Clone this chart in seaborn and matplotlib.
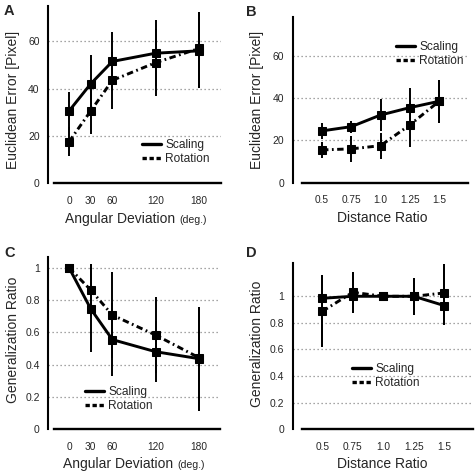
import numpy as np
import pandas as pd
import matplotlib
matplotlib.use("Agg")
import matplotlib.pyplot as plt
from matplotlib.lines import Line2D
import seaborn as sns

# ---------------- data ----------------
ang_x = [0, 30, 60, 120, 180]
ang_ticklabels = ["0", "30", "60", "120", "180"]
dist_x = [0.5, 0.75, 1.0, 1.25, 1.5]
dist_ticklabels = ["0.5", "0.75", "1.0", "1.25", "1.5"]

# Panel A: Euclidean error vs angular deviation
a_scal = [30.5, 42.0, 51.5, 55.0, 56.0]
a_scal_lo = [22.5, 29.6, 39.0, 41.0, 40.3]
a_scal_hi = [38.5, 54.4, 64.0, 69.2, 72.4]
a_rot = [17.5, 30.5, 43.5, 51.0, 57.0]
a_rot_lo = [11.4, 20.6, 31.3, 36.9, 40.3]
a_rot_hi = [23.6, 40.4, 55.7, 65.1, 72.4]

# Panel B: Euclidean error vs distance ratio
b_scal = [24.5, 26.5, 32.0, 35.5, 38.5]
b_scal_lo = [20.5, 23.5, 24.4, 26.5, 28.1]
b_scal_hi = [28.4, 29.3, 39.6, 44.6, 48.4]
b_rot = [15.5, 16.0, 17.5, 27.3, 38.5]
b_rot_lo = [11.8, 9.9, 11.3, 16.9, 28.1]
b_rot_hi = [19.2, 22.1, 23.7, 37.7, 48.4]

# Panel C: generalization ratio vs angular deviation
c_scal = [1.0, 0.746, 0.555, 0.48, 0.437]
c_scal_lo = [1.0, 0.48, 0.33, 0.294, 0.115]
c_scal_hi = [1.0, 1.02, 0.78, 0.67, 0.754]
c_rot = [1.0, 0.862, 0.707, 0.583, 0.443]
c_rot_lo = [1.0, 0.70, 0.44, 0.35, 0.115]
c_rot_hi = [1.0, 1.02, 0.971, 0.816, 0.754]

# Panel D: generalization ratio vs distance ratio
d_scal = [0.985, 1.0, 1.0, 1.0, 0.93]
d_scal_lo = [0.62, 0.877, 1.0, 0.862, 0.782]
d_scal_hi = [1.158, 1.183, 1.0, 1.138, 1.246]
d_rot = [0.887, 1.03, 1.0, 1.0, 1.025]
d_rot_lo = [0.62, 0.877, 1.0, 0.862, 0.782]
d_rot_hi = [1.158, 1.183, 1.0, 1.138, 1.246]

series_names = ["Scaling", "Rotation"]

# ---------------- style ----------------
sns.set_style("white")
plt.rcParams["font.family"] = ["Liberation Sans", "DejaVu Sans"]

W, H = 477, 472
fig = plt.figure(figsize=(W / 100, H / 100), dpi=100)

ROT_DASH = (2.2, 1.2, 0.6, 1.2)


def add_axes_px(left, top, right, bottom):
    return fig.add_axes([left / W, 1 - bottom / H, (right - left) / W, (bottom - top) / H])


def panel(ax, x, scal, slo, shi, rot, rlo, rhi, xlim, xbound, ylim, yticks,
          yticklabels, xticks, xticklabels, ylabel, xlabel, xlabel_extra,
          legend_pos, label_px):
    df = pd.DataFrame({
        "x": list(x) * 2,
        "y": list(scal) + list(rot),
        "cond": [series_names[0]] * len(x) + [series_names[1]] * len(x),
    })
    # error bars
    for vals, lo, hi in [(scal, slo, shi), (rot, rlo, rhi)]:
        yerr = [np.array(vals) - np.array(lo), np.array(hi) - np.array(vals)]
        ax.errorbar(x, vals, yerr=yerr, fmt="none", ecolor="black",
                    elinewidth=1.4, capsize=0, zorder=2)
    sns.lineplot(data=df, x="x", y="y", style="cond",
                 dashes={"Scaling": "", "Rotation": ROT_DASH},
                 markers={"Scaling": "s", "Rotation": "s"},
                 color="black", linewidth=2.1, markersize=6.3,
                 markeredgecolor="black", legend=False, ax=ax, zorder=3)
    ax.set_xlim(*xlim)
    ax.set_ylim(*ylim)
    ax.set_yticks(yticks)
    ax.set_yticklabels(yticklabels, fontsize=7.5)
    ax.set_xticks(xticks)
    ax.set_xticklabels(xticklabels, fontsize=7.3)
    ax.tick_params(axis="y", length=0, pad=6)
    ax.tick_params(axis="x", direction="in", length=3, width=1.2, pad=9,
                   color="black")
    for yv in yticks[1:]:
        ax.axhline(yv, color="#888888", lw=0.9, ls=(0, (1, 2.2)), zorder=1)
    for s in ["top", "right"]:
        ax.spines[s].set_visible(False)
    ax.spines["left"].set_linewidth(1.5)
    ax.spines["bottom"].set_linewidth(1.7)
    ax.spines["left"].set_color("black")
    ax.spines["bottom"].set_color("black")
    ax.spines["bottom"].set_bounds(*xbound)
    ax.set_ylabel(ylabel, fontsize=10, va="center", ha="center")
    ax.set_xlabel("")
    # labels positions given in figure px
    pos = ax.get_position()
    def fx(px):
        return (px / W - pos.x0) / pos.width
    def fy(py):
        return ((1 - py / H) - pos.y0) / pos.height
    ylx, yly, xlx, xly = label_px
    ax.yaxis.set_label_coords(fx(ylx), fy(yly))
    if xlabel_extra:
        ax.text(fx(xlx), fy(xly), xlabel, transform=ax.transAxes,
                fontsize=10, ha="right", va="baseline")
        ax.text(fx(xlx + 3.5), fy(xly), xlabel_extra, transform=ax.transAxes,
                fontsize=7.6, ha="left", va="baseline")
    else:
        ax.text(fx(xlx), fy(xly), xlabel, transform=ax.transAxes,
                fontsize=10, ha="center", va="baseline")
    handles = [Line2D([], [], color="black", lw=2.4),
               Line2D([], [], color="black", lw=2.4, ls=(0, (1.3, 0.8)))]
    ax.legend(handles, series_names, loc="upper left",
              bbox_to_anchor=(fx(legend_pos[0]), fy(legend_pos[1])),
              frameon=False, fontsize=8.6, handlelength=1.55,
              handletextpad=0.4, labelspacing=0.2, borderaxespad=0,
              borderpad=0)


# Panel A
axA = add_axes_px(48, 6, 221, 183)
panel(axA, ang_x, a_scal, a_scal_lo, a_scal_hi, a_rot, a_rot_lo, a_rot_hi,
      xlim=(-29.1, 210.5), xbound=(-20.8, 210.5), ylim=(0, 75),
      yticks=[0, 20, 40, 60], yticklabels=["0", "20", "40", "60"],
      xticks=ang_x, xticklabels=ang_ticklabels,
      ylabel="Euclidean Error [Pixel]", xlabel="Angular Deviation",
      xlabel_extra="(deg.)", legend_pos=(142, 139),
      label_px=(13, 100, 175.5, 223))

# Panel B
axB = add_axes_px(292.7, 16.7, 468.3, 182.7)
panel(axB, dist_x, b_scal, b_scal_lo, b_scal_hi, b_rot, b_rot_lo, b_rot_hi,
      xlim=(0.2496, 1.750), xbound=(0.3265, 1.750), ylim=(0, 78.5),
      yticks=[0, 20, 40, 60], yticklabels=["0", "20", "40", "60"],
      xticks=dist_x, xticklabels=dist_ticklabels,
      ylabel="Euclidean Error [Pixel]", xlabel="Distance Ratio",
      xlabel_extra=None, legend_pos=(396, 41),
      label_px=(257, 100, 382, 222))

# Panel C
axC = add_axes_px(48, 256.7, 220, 429.3)
panel(axC, ang_x, c_scal, c_scal_lo, c_scal_hi, c_rot, c_rot_lo, c_rot_hi,
      xlim=(-29.1, 209.1), xbound=(-20.8, 209.1), ylim=(0, 1.068),
      yticks=[0, 0.2, 0.4, 0.6, 0.8, 1.0],
      yticklabels=["0", "0.2", "0.4", "0.6", "0.8", "1"],
      xticks=ang_x, xticklabels=ang_ticklabels,
      ylabel="Generalization Ratio", xlabel="Angular Deviation",
      xlabel_extra="(deg.)", legend_pos=(85, 386),
      label_px=(13, 340, 173.5, 468))

# Panel D
axD = add_axes_px(292.7, 263.3, 473.3, 429.3)
panel(axD, dist_x, d_scal, d_scal_lo, d_scal_hi, d_rot, d_rot_lo, d_rot_hi,
      xlim=(0.2574, 1.738), xbound=(0.331, 1.738), ylim=(0, 1.248),
      yticks=[0, 0.2, 0.4, 0.6, 0.8, 1.0],
      yticklabels=["0", "0.2", "0.4", "0.6", "0.8", "1"],
      xticks=dist_x, xticklabels=dist_ticklabels,
      ylabel="Generalization Ratio", xlabel="Distance Ratio",
      xlabel_extra=None, legend_pos=(352, 363),
      label_px=(257, 344, 382, 468))

# panel letters
for letter, px, py in [("A", 4, 15), ("B", 246, 16), ("C", 4, 257), ("D", 246, 257)]:
    fig.text(px / W, 1 - py / H, letter, fontsize=10.5, fontweight="bold",
             ha="left", va="baseline")

fig.savefig("out.png", dpi=100)
